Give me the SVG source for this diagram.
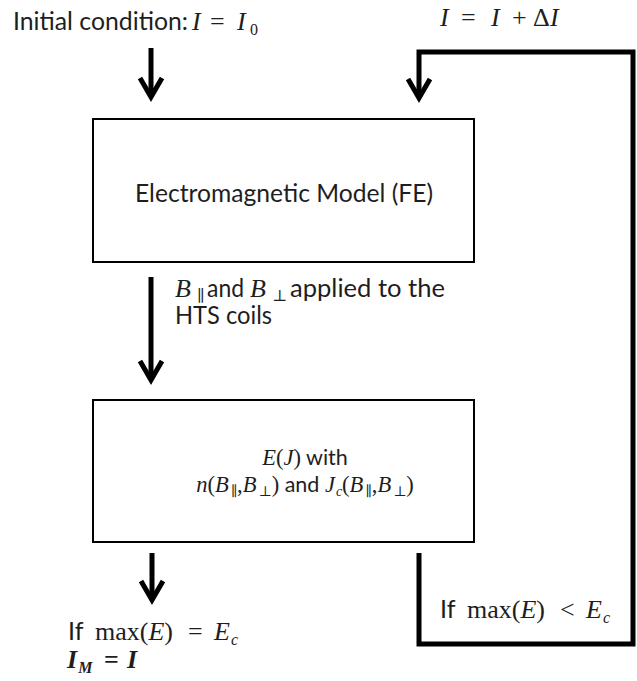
<svg xmlns="http://www.w3.org/2000/svg" width="637" height="681" viewBox="0 0 637 681">
<style>
.box{fill:#fff;stroke:#000;stroke-width:2}
.conn{fill:none;stroke:#000;stroke-width:5;stroke-linejoin:miter}
.s{font-family:Lato,"Liberation Sans",sans-serif;font-size:25px;font-style:normal;font-weight:normal;fill:#1e1e1e}
.m{font-family:"Liberation Serif","DejaVu Serif",serif;font-size:26px;fill:#1e1e1e}
.i{font-style:italic}
.sub{font-size:16px}
.b{font-weight:bold}
.xs{font-size:22.5px}
.xs .s{font-size:21.5px}
.xs .sub{font-size:14px}
</style>
<defs>
<marker id="chev" viewBox="-25 -15 30 30" refX="0" refY="0" markerWidth="30" markerHeight="30" markerUnits="userSpaceOnUse" orient="auto">
<path d="M-19,-11 L0,0 L-19,11" fill="none" stroke="#000" stroke-width="5"/>
</marker>
</defs>
<rect width="637" height="681" fill="#fff"/>
<g id="connectors">
<path class="conn" d="M151,48 V97" marker-end="url(#chev)"/>
<path class="conn" d="M151,277 V380" marker-end="url(#chev)"/>
<path class="conn" d="M152,553 V600" marker-end="url(#chev)"/>
<path class="conn" d="M419,553 V644 H633 V52 H419 V98" marker-end="url(#chev)"/>
</g>
<g id="node-em">
<rect class="box" x="93" y="119" width="381" height="143"/>
<text class="s" x="135" y="202" textLength="298" lengthAdjust="spacingAndGlyphs">Electromagnetic Model (FE)</text>
</g>
<g id="node-ej">
<rect class="box" x="93" y="400" width="381" height="142"/>
<text class="m xs" x="305" y="465" text-anchor="middle"><tspan class="i">E</tspan>(<tspan class="i">J</tspan>)<tspan class="s"> with</tspan></text>
<text class="m xs" x="305" y="492" text-anchor="middle"><tspan class="i">n</tspan>(<tspan class="i">B</tspan><tspan class="sub" dx="2" dy="4">∥</tspan><tspan dy="-4">,</tspan><tspan class="i">B</tspan><tspan class="sub" dx="2" dy="4">⊥</tspan><tspan dy="-4">)</tspan><tspan class="s"> and </tspan><tspan class="i">J</tspan><tspan class="i sub" dx="1" dy="4">c</tspan><tspan dy="-4">(</tspan><tspan class="i">B</tspan><tspan class="sub" dx="2" dy="4">∥</tspan><tspan dy="-4">,</tspan><tspan class="i">B</tspan><tspan class="sub" dx="2" dy="4">⊥</tspan><tspan dy="-4">)</tspan></text>
</g>
<g id="labels">
<text class="s" x="13" y="30" textLength="175" lengthAdjust="spacingAndGlyphs">Initial condition:</text>
<text class="m" y="30"><tspan class="i" x="192">I</tspan><tspan x="210">=</tspan><tspan class="i" x="237">I</tspan><tspan class="sub" x="250" y="35">0</tspan></text>
<text class="m" y="26"><tspan class="i" x="440">I</tspan><tspan x="461">=</tspan><tspan class="i" x="491">I</tspan><tspan x="512">+</tspan><tspan x="533">Δ</tspan><tspan class="i" x="550">I</tspan></text>
<text class="m" y="297"><tspan class="i" x="175">B</tspan><tspan class="sub" x="197" y="301">∥</tspan><tspan class="s" x="207" y="297" textLength="37" lengthAdjust="spacingAndGlyphs">and</tspan><tspan class="i" x="250">B</tspan><tspan class="sub" x="272" y="301">⊥</tspan><tspan class="s" x="290" y="297" textLength="155" lengthAdjust="spacingAndGlyphs">applied to the</tspan></text>
<text class="s" x="175" y="324" textLength="97" lengthAdjust="spacingAndGlyphs">HTS coils</text>
<text class="m" y="640"><tspan class="s" x="68">If</tspan><tspan x="95">max(</tspan><tspan class="i">E</tspan><tspan>)</tspan><tspan x="188">=</tspan><tspan class="i" x="214">E</tspan><tspan class="i sub" dx="1" dy="5">c</tspan></text>
<text class="m b" y="668"><tspan class="i" x="67">I</tspan><tspan class="i sub" dx="1" dy="5">M</tspan><tspan x="104" dy="-5">=</tspan><tspan class="i" x="127">I</tspan></text>
<text class="m" y="618"><tspan class="s" x="440">If</tspan><tspan x="467">max(</tspan><tspan class="i">E</tspan><tspan>)</tspan><tspan x="560">&lt;</tspan><tspan class="i" x="586">E</tspan><tspan class="i sub" dx="1" dy="5">c</tspan></text>
</g>
</svg>
